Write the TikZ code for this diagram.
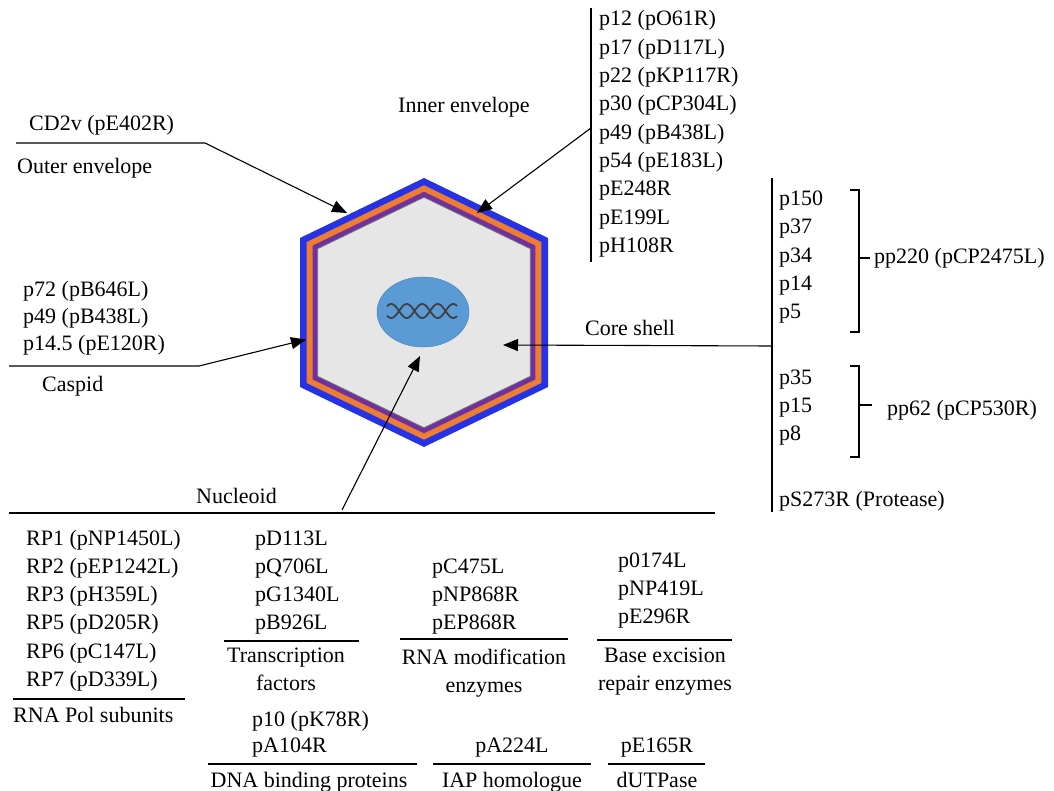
\documentclass[tikz,border=0pt]{standalone}
\usepackage{fontspec}
\setmainfont{Liberation Serif}
\usetikzlibrary{arrows.meta,shapes.geometric}

\definecolor{shellblue}{HTML}{2632E6}
\definecolor{shellorange}{HTML}{ED7D31}
\definecolor{shellpurple}{HTML}{7030A0}
\definecolor{coregray}{HTML}{E6E6E6}
\definecolor{coreedge}{HTML}{707070}
\definecolor{nucblue}{HTML}{5B9BD5}
\definecolor{nucedge}{HTML}{4A86BF}
\definecolor{dnagray}{HTML}{404040}

% stacked protein lists: baseline of the box = baseline of first row
\newcommand\plist[1]{\begin{tabular}[t]{@{}l@{}}#1\end{tabular}}
\newcommand\clist[1]{\begin{tabular}[t]{@{}c@{}}#1\end{tabular}}

\begin{document}
\begin{tikzpicture}[x=1pt,y=-1pt,
  lbl/.style={inner sep=0pt, font=\fontsize{22}{28.3}\selectfont, anchor=base west},
  lblc/.style={lbl, anchor=base},
  conn/.style={line width=1.1pt, line join=round},
  arr/.style={conn, -{Triangle[length=15pt,width=12pt]}},
  rule/.style={line width=1.3pt}]
\useasboundingbox (0,0) rectangle (1054,791);

% ---------- virion: nested hexagonal layers ----------
\begin{scope}[shift={(424,312.5)}]
  \def\hex{(0,-134.5) -- (124,-74.5) -- (124,74.5) -- (0,134.5) -- (-124,74.5) -- (-124,-74.5) -- cycle}
  \fill[shellblue] \hex;
  \fill[shellorange, scale=0.946] \hex;
  \fill[shellpurple, scale=0.898] \hex;
  \filldraw[fill=coregray, draw=coreedge, line width=0.8pt, scale=0.857] \hex;
\end{scope}

% nucleoid with DNA helix
\node[ellipse, fill=nucblue, draw=nucedge, line width=0.5pt,
      minimum width=92pt, minimum height=70pt, inner sep=0pt] (nuc) at (423,312) {};
\draw[dnagray, line width=1.8pt, domain=387:457, samples=100, smooth]
  plot (\x, {311+7*sin(180*(\x-399)/15.5)});
\draw[dnagray, line width=1.8pt, domain=387:457, samples=100, smooth]
  plot (\x, {311-7*sin(180*(\x-399)/15.5)});

% arrow targets on the virion
\coordinate (tOuter) at (347,213);
\coordinate (tInner) at (477,213);
\coordinate (tCapsid) at (306,339.5);
\coordinate (tCore) at (503,345);
\coordinate (tNuc) at (420,356);

% ---------- outer envelope ----------
\node[lbl] (cd2v) at (29,131) {CD2v (pE402R)};
\node[lbl] (outer) at (17,174) {Outer envelope};
\coordinate (oA) at (16,143);
\coordinate (oB) at (205,143);
\draw[arr] (oA) -- (oB) -- (tOuter);

% ---------- inner envelope ----------
\node[lbl] (inner) at (398,113) {Inner envelope};
\node[lbl] (innerlist) at (599,26) {\plist{p12 (pO61R)\\p17 (pD117L)\\p22 (pKP117R)\\p30 (pCP304L)\\p49 (pB438L)\\p54 (pE183L)\\pE248R\\pE199L\\pH108R}};
\coordinate (iTop) at (591,8);
\coordinate (iBot) at (591,262);
\coordinate (iJoin) at (591,128);
\draw[conn] (iTop) -- (iBot);
\draw[arr] (iJoin) -- (tInner);

% ---------- capsid ----------
\node[lbl, font=\fontsize{22}{26.8}\selectfont] (capsidlist) at (23,297) {\plist{p72 (pB646L)\\p49 (pB438L)\\p14.5 (pE120R)}};
\node[lbl] (capsid) at (42,391) {Caspid};
\coordinate (cA) at (9,366);
\coordinate (cB) at (199,366);
\draw[arr] (cA) -- (cB) -- (tCapsid);

% ---------- core shell ----------
\node[lbl] (core) at (585,335) {Core shell};
\coordinate (rTop) at (772,178);
\coordinate (rBot) at (772,512);
\coordinate (rJoin) at (772,346);
\draw[conn] (rTop) -- (rBot);
\draw[arr] (rJoin) -- (tCore);

\node[lbl] (pp220list) at (779,205.5) {\plist{p150\\p37\\p34\\p14\\p5}};
\node[lbl] (pp62list) at (779,384) {\plist{p35\\p15\\p8}};
\node[lbl] (protease) at (779,506) {pS273R (Protease)};
\node[lbl] (pp220) at (874,264) {pp220 (pCP2475L)};
\node[lbl] (pp62) at (887,415) {pp62 (pCP530R)};

% brackets grouping the polyprotein products
\draw[conn, line join=miter] (850,190) -- (859,190) -- (859,332) -- (850,332);
\draw[conn] (859,258) -- (870,258);
\draw[conn, line join=miter] (850,366) -- (859,366) -- (859,457) -- (850,457);
\draw[conn] (859,405) -- (872,405);

% ---------- nucleoid ----------
\node[lbl] (nucleoid) at (196,503) {Nucleoid};
\coordinate (nA) at (9,513);
\coordinate (nB) at (715,513);
\coordinate (nStart) at (342,510);
\draw[conn] (nA) -- (nB);
\draw[arr] (nStart) -- (tNuc);

% RNA polymerase subunits
\node[lbl] (rnapol) at (26,545) {\plist{RP1 (pNP1450L)\\RP2 (pEP1242L)\\RP3 (pH359L)\\RP5 (pD205R)\\RP6 (pC147L)\\RP7 (pD339L)}};
\draw[rule] (13,699) -- (185,699);
\node[lbl] (rnapolT) at (13,722) {RNA Pol subunits};

% transcription factors
\node[lbl] (tf) at (255,545) {\plist{pD113L\\pQ706L\\pG1340L\\pB926L}};
\draw[rule] (224,641) -- (359,641);
\node[lblc] (tfT) at (286,662) {\clist{Transcription\\factors}};

% DNA binding proteins
\node[lbl, font=\fontsize{22}{26.2}\selectfont] (dbp) at (252,726) {\plist{p10 (pK78R)\\pA104R}};
\draw[rule] (208,764) -- (417,764);
\node[lblc] (dbpT) at (309,787) {DNA binding proteins};

% RNA modification enzymes
\node[lbl] (rme) at (432,573) {\plist{pC475L\\pNP868R\\pEP868R}};
\draw[rule] (400,639) -- (568,639);
\node[lblc] (rmeT) at (484,664) {\clist{RNA modification\\enzymes}};

% base excision repair enzymes
\node[lbl] (ber) at (618,567) {\plist{p0174L\\pNP419L\\pE296R}};
\draw[rule] (597,640) -- (732,640);
\node[lblc] (berT) at (665,662) {\clist{Base excision\\repair enzymes}};

% IAP homologue
\node[lblc] (iap) at (512,752) {pA224L};
\draw[rule] (433,764) -- (591,764);
\node[lblc] (iapT) at (512,787) {IAP homologue};

% dUTPase
\node[lblc] (dut) at (657,752) {pE165R};
\draw[rule] (608,764) -- (705,764);
\node[lblc] (dutT) at (657,787) {dUTPase};
\end{tikzpicture}
\end{document}
